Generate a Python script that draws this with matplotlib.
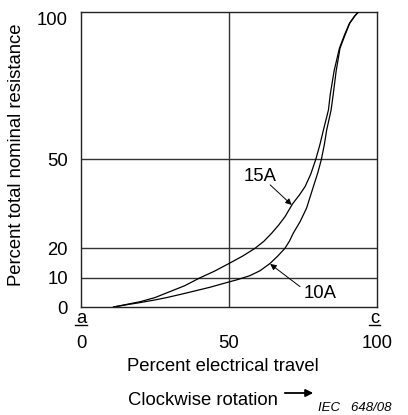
import matplotlib; matplotlib.use("Agg")
import matplotlib.pyplot as plt

# percent electrical travel vs percent total nominal resistance
x_15a = [11, 15, 20, 25, 29, 35, 40.2, 45, 50.1, 54.5, 58.8, 61.8, 64.4, 66.8, 68.9, 71.5, 73.8,
         75.7, 77.6, 79.3, 80.7, 81.9, 83.6, 84.2, 85.5, 87.3, 89.0, 90.7, 92.4, 93.7]
y_15a = [0, 0.8, 1.8, 3.2, 4.8, 7.2, 9.9, 12.1, 14.8, 17.2, 19.9, 22.3, 25.0, 27.8, 30.6, 35.0, 38.0,
         40.8, 45.0, 50.0, 55.0, 60.0, 66.8, 72.0, 80.0, 87.7, 92.2, 96.2, 98.6, 100]
x_10a = [11, 15, 20, 25, 29, 35, 43.6, 50, 52.6, 57, 60.5, 63.9, 66.5, 68.9, 70.4, 71.7, 74, 76.2,
         78.5, 80.0, 81.2, 82.2, 83, 84.5, 85.2, 86.2, 87.5, 89.2, 90.8, 92.5, 93.7]
y_10a = [0, 0.7, 1.5, 2.4, 3.2, 4.6, 6.7, 8.5, 9.2, 10.6, 12.3, 14.8, 17.3, 19.9, 22.3, 25.0, 28.9, 33.5,
         40.8, 45.5, 50.0, 55.0, 60.0, 66.8, 72.0, 80.0, 87.7, 92.2, 96.2, 98.6, 100]
yticks = [0, 10, 20, 50, 100]
xticks = [0, 50, 100]
grid_y = [10, 20, 50]
grid_x = [50]
ends = [(0, 'a'), (99.2, 'c')]

plt.rcParams['font.family'] = ['Liberation Sans', 'DejaVu Sans']
FS = 13.3

fig = plt.figure(figsize=(4.08, 4.15), dpi=100)
ax = fig.add_axes([81/408, 108/415, 296/408, 295/415])
ax.set_xlim(0, 100); ax.set_ylim(0, 100)
for s in ax.spines.values():
    s.set_color('#222'); s.set_linewidth(1.0)
for g in grid_y: ax.axhline(g, color='#333', lw=1.0, zorder=1)
for g in grid_x: ax.axvline(g, color='#333', lw=1.0, zorder=1)

ax.plot(x_15a, y_15a, color='k', lw=0.9, zorder=3, solid_joinstyle='round')
ax.plot(x_10a, y_10a, color='k', lw=0.9, zorder=3, solid_joinstyle='round')

ax.set_yticks(yticks); ax.set_yticklabels([str(v) for v in yticks], fontsize=FS)
ax.set_xticks(xticks); ax.set_xticklabels([str(v) for v in xticks], fontsize=FS)
ax.tick_params(axis='y', length=0, pad=9.4)
ax.tick_params(axis='x', length=0, pad=20)
ax.get_yticklabels()[-1].set_va('top')

# a / c ends, underlined
for xe, lab in ends:
    ax.text(xe, -5.35, lab, ha='center', va='baseline', fontsize=FS)
    ax.plot([xe - 1.9, xe + 1.9], [-6.2, -6.2], color='k', lw=1.0, clip_on=False)

# curve labels
ax.text(60.5, 44.4, '15A', ha='center', va='center', fontsize=FS)
ax.annotate('', xy=(71.2, 34.6), xytext=(63.9, 41.4),
            arrowprops=dict(arrowstyle='-|>', color='k', lw=0.7, mutation_scale=9, shrinkA=0, shrinkB=0))
ax.text(80.7, 4.6, '10A', ha='center', va='center', fontsize=FS)
ax.annotate('', xy=(63.9, 14.6), xytext=(74, 6.9),
            arrowprops=dict(arrowstyle='-|>', color='k', lw=0.7, mutation_scale=9, shrinkA=0, shrinkB=0))

ax.set_ylabel('Percent total nominal resistance', fontsize=FS)
ax.yaxis.set_label_coords(-0.189, 0.515)

fig.text(223/408, 1 - 366/415, 'Percent electrical travel', ha='center', va='center', fontsize=FS)
fig.text(128/408, 1 - 400/415, 'Clockwise rotation', ha='left', va='center', fontsize=FS)
fig.add_artist(matplotlib.patches.FancyArrowPatch((282/408, 1 - 393/415), (316/408, 1 - 393/415),
               transform=fig.transFigure, arrowstyle='-|>', mutation_scale=11, color='k', lw=1.3))
fig.text(318/408, 1 - 408/415, 'IEC   648/08', ha='left', va='center', fontsize=9.5, style='italic')

fig.savefig('out.png', dpi=100)
